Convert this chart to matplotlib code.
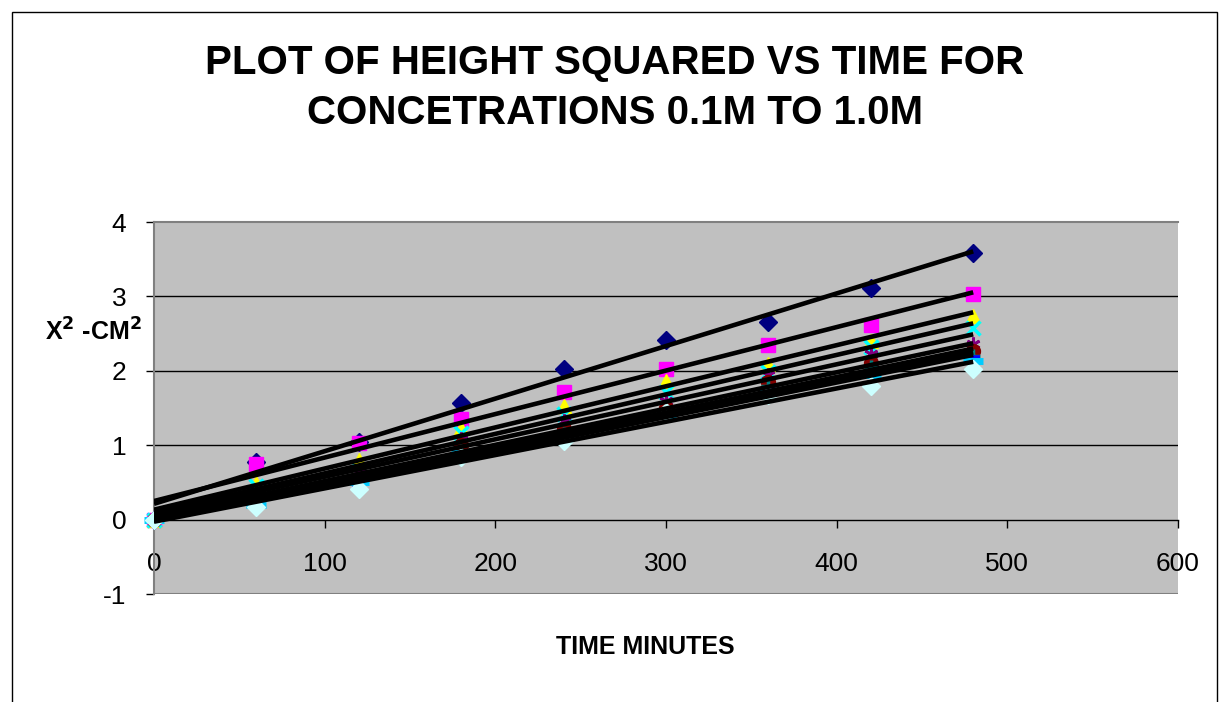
import numpy as np
import matplotlib
matplotlib.use("Agg")
import matplotlib.pyplot as plt
from matplotlib.patches import Rectangle

plt.rcParams['font.family'] = ['Liberation Sans', 'DejaVu Sans']
plt.rcParams['axes.unicode_minus'] = False

# ==========================================
# DATA: time (minutes) and height squared (cm^2) per concentration
# ==========================================
time_min = [0, 60, 120, 180, 240, 300, 360, 420, 480]

conc_01 = [0, 0.77, 1.04, 1.57, 2.03, 2.42, 2.65, 3.11, 3.59]
conc_02 = [0, 0.75, 1.03, 1.35, 1.72, 2.02, 2.35, 2.62, 3.03]
conc_03 = [0, 0.49, 0.80, 1.23, 1.53, 1.86, 2.09, 2.40, 2.74]
conc_04 = [0, 0.45, 0.65, 1.17, 1.42, 1.72, 1.98, 2.32, 2.57]
conc_05 = [0, 0.38, 0.62, 1.08, 1.32, 1.60, 1.95, 2.22, 2.36]
conc_06 = [0, 0.31, 0.55, 1.00, 1.22, 1.50, 1.85, 2.10, 2.27]
conc_07 = [0, 0.28, 0.52, 0.92, 1.15, 1.45, 1.80, 2.05, 2.20]
conc_08 = [0, 0.22, 0.48, 0.90, 1.12, 1.42, 1.75, 1.97, 2.17]
conc_09 = [0, 0.20, 0.50, 0.90, 1.10, 1.40, 1.72, 1.95, 2.13]
conc_10 = [0, 0.17, 0.41, 0.84, 1.05, 1.45, 1.68, 1.80, 2.02]

series = [conc_01, conc_02, conc_03, conc_04, conc_05,
          conc_06, conc_07, conc_08, conc_09, conc_10]

title_lines = ['PLOT OF HEIGHT SQUARED VS TIME FOR', 'CONCETRATIONS 0.1M TO 1.0M']

# Excel-97 default series styles
styles = [
    dict(marker='D', color='#000080', ms=9),
    dict(marker='s', color='#FF00FF', ms=10),
    dict(marker='^', color='#FFFF00', ms=10),
    dict(marker='x', color='#00FFFF', ms=10, mew=2.5),
    dict(marker=(6, 2, 0), color='#800080', ms=10, mew=2),
    dict(marker='o', color='#800000', ms=10),
    dict(marker='+', color='#008080', ms=10, mew=2.5),
    dict(marker='_', color='#0000FF', ms=10, mew=4),
    dict(marker='_', color='#00CCFF', ms=14, mew=5),
    dict(marker='D', color='#CCFFFF', ms=9),
]

W, H = 1219, 702
fig = plt.figure(figsize=(W / 100, H / 100), dpi=100)
fig.patch.set_facecolor('white')

# chart-area frame (bottom edge falls outside the picture)
fig.patches.append(Rectangle((12 / W, -0.05), (1217 - 12) / W, (H - 12) / H + 0.05,
                             transform=fig.transFigure, fill=False,
                             edgecolor='black', linewidth=1.0))

ax = fig.add_axes([154 / W, (H - 594) / H, 1024 / W, 372 / H])
ax.set_facecolor('#C0C0C0')

x = np.array(time_min, dtype=float)
for ys, st in zip(series, styles):
    ys = np.array(ys, dtype=float)
    ax.plot(x, ys, linestyle='none', marker=st['marker'], color=st['color'],
            markersize=st['ms'], markeredgewidth=st.get('mew', 1),
            markeredgecolor=st['color'], zorder=3, clip_on=False)

# linear trendlines drawn over the markers
for ys in series:
    k, b = np.polyfit(x, np.array(ys, dtype=float), 1)
    ax.plot([x[0], x[-1]], [b, k * x[-1] + b], color='black', linewidth=3.3,
            solid_capstyle='butt', zorder=4)

ax.set_xlim(0, 600)
ax.set_ylim(-1, 4)
ax.set_xticks(np.arange(0, 601, 100))
ax.set_yticks(np.arange(-1, 5, 1))

for yv in [1, 2, 3]:
    ax.axhline(yv, color='black', linewidth=1.0, zorder=1)
ax.axhline(-1, color='#808080', linewidth=1.5, zorder=1)

ax.spines['left'].set_color('#808080')
ax.spines['left'].set_linewidth(1.5)
ax.spines['top'].set_color('#808080')
ax.spines['top'].set_linewidth(1.5)
ax.spines['right'].set_visible(False)
ax.spines['bottom'].set_position(('data', 0))
ax.spines['bottom'].set_color('black')
ax.spines['bottom'].set_linewidth(1.0)

ax.tick_params(axis='y', direction='out', length=6, width=1, color='black',
               labelsize=19, pad=14)
ax.tick_params(axis='x', direction='out', length=6, width=1, color='black',
               labelsize=19, pad=17)

fig.text(645 / W, 1 - 647 / H, 'TIME MINUTES', ha='center', va='center',
         fontsize=18, fontweight='bold')
ax.text(-0.0117, 0.704, 'X$^\\mathbf{2}$ -CM$^\\mathbf{2}$', transform=ax.transAxes,
        ha='right', va='center', fontsize=18, fontweight='bold')

for line, ypx in zip(title_lines, [63, 113]):
    fig.text(615 / W, 1 - ypx / H, line, ha='center', va='center',
             fontsize=29, fontweight='bold')

fig.savefig('out.png', dpi=100)
